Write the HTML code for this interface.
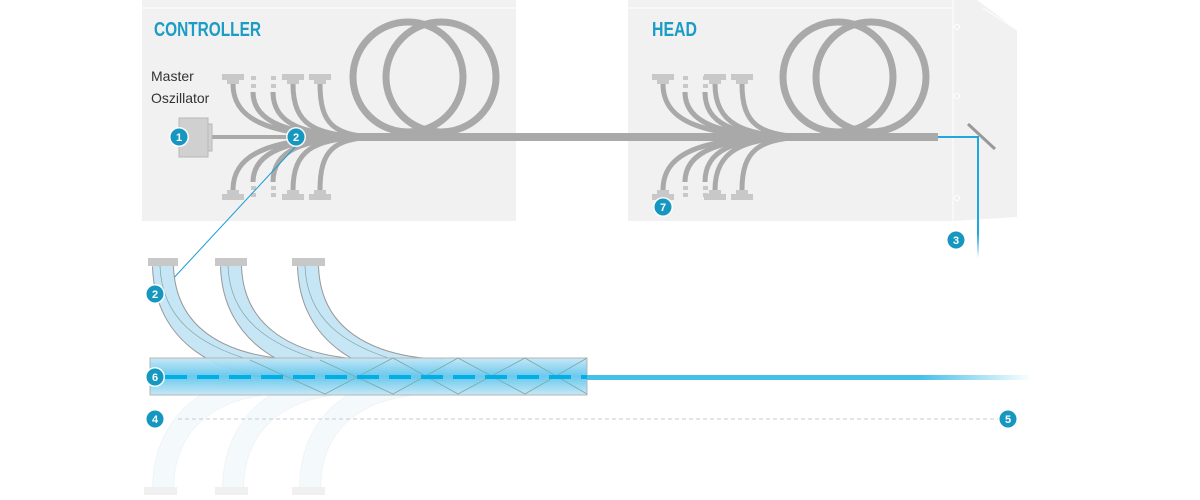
<!DOCTYPE html>
<html><head><meta charset="utf-8"><style>
html,body{margin:0;padding:0;background:#fff;}
svg{display:block;}
text{font-family:"Liberation Sans",sans-serif;}
</style></head><body>
<svg width="1200" height="500" viewBox="0 0 1200 500" xmlns="http://www.w3.org/2000/svg">
<defs>
<linearGradient id="tubeG" x1="0" y1="0" x2="0" y2="1">
<stop offset="0" stop-color="#c4e6f6"/><stop offset="0.5" stop-color="#62c6ec"/><stop offset="1" stop-color="#c4e6f6"/>
</linearGradient>
<linearGradient id="beamG" x1="0" y1="0" x2="1" y2="0">
<stop offset="0" stop-color="#47c0e8"/><stop offset="0.75" stop-color="#47c0e8"/><stop offset="1" stop-color="#47c0e8" stop-opacity="0"/>
</linearGradient>
<linearGradient id="vbeam" x1="0" y1="0" x2="0" y2="1">
<stop offset="0" stop-color="#1fa8e0"/><stop offset="0.8" stop-color="#1fa8e0"/><stop offset="1" stop-color="#1fa8e0" stop-opacity="0"/>
</linearGradient>
<g id="badge"><circle r="10" fill="#fff" opacity="0.9"/><circle r="8.5" fill="#1597bf"/></g>
<g id="conT"><rect x="-11" y="-4" width="22" height="6" fill="#c8c8c8"/><rect x="-6" y="2" width="12" height="4" fill="#c8c8c8"/></g>
<g id="conB"><rect x="-11" y="-2" width="22" height="6" fill="#c8c8c8"/><rect x="-6" y="-6" width="12" height="4" fill="#c8c8c8"/></g>
</defs>

<rect x="142" y="0" width="374" height="221" fill="#f1f1f1"/>
<line x1="142" y1="8" x2="516" y2="8" stroke="#fff"/>
<rect x="628" y="0" width="325" height="221" fill="#f1f1f1"/>
<line x1="628" y1="8" x2="953" y2="8" stroke="#fff"/>
<polygon points="953,0 977,0 1017,30 1017,217 953,221" fill="#f1f1f1"/>
<line x1="953" y1="0" x2="953" y2="221" stroke="#fff"/>
<line x1="983" y1="8" x2="1017" y2="30" stroke="#fff"/>
<circle cx="957" cy="27" r="2.5" fill="none" stroke="#fff"/>
<circle cx="957" cy="96" r="2.5" fill="none" stroke="#fff"/>
<circle cx="957" cy="198" r="2.5" fill="none" stroke="#fff"/>

<text x="154" y="36" font-size="20" font-weight="bold" fill="#1a9cc4" textLength="107" lengthAdjust="spacingAndGlyphs">CONTROLLER</text>
<text x="652" y="36" font-size="20" font-weight="bold" fill="#1a9cc4" textLength="45" lengthAdjust="spacingAndGlyphs">HEAD</text>
<text x="151" y="81" font-size="14" fill="#333">Master</text>
<text x="151" y="103" font-size="14" fill="#333">Oszillator</text>

<g fill="none" stroke="#a9a9a9" stroke-width="7">
<circle cx="408" cy="77" r="55"/><circle cx="441" cy="77" r="55"/>
<circle cx="838" cy="77" r="55"/><circle cx="871" cy="77" r="55"/>
</g>
<g fill="none" stroke="#a9a9a9" stroke-width="5">
<path d="M233,84 C233,125 280,134 345,137"/>
<path d="M253,92 C253,125 295,134 350,137"/>
<path d="M273,92 C273,125 305,134 355,137"/>
<path d="M293,84 C293,125 315,134 360,137"/>
<path d="M320,84 C320,125 335,134 370,137"/>
<path d="M233,190 C233,149 280,140 345,137"/>
<path d="M253,182 C253,149 295,140 350,137"/>
<path d="M273,182 C273,149 305,140 355,137"/>
<path d="M293,190 C293,149 315,140 360,137"/>
<path d="M320,190 C320,149 335,140 370,137"/>
<path d="M663,84 C663,125 710,134 775,137"/>
<path d="M685,92 C685,125 725,134 780,137"/>
<path d="M705,92 C705,125 735,134 785,137"/>
<path d="M715,84 C715,125 745,134 790,137"/>
<path d="M742,84 C742,125 760,134 800,137"/>
<path d="M663,190 C663,149 710,140 775,137"/>
<path d="M685,182 C685,149 725,140 780,137"/>
<path d="M705,182 C705,149 735,140 785,137"/>
<path d="M715,190 C715,149 745,140 790,137"/>
<path d="M742,190 C742,149 760,140 800,137"/>
</g>
<rect x="210" y="135" width="140" height="4" fill="#a9a9a9"/>
<rect x="340" y="133" width="598" height="8" fill="#a9a9a9"/>
<g fill="#c8c8c8">
<rect x="251" y="76" width="5" height="4"/><rect x="251" y="84" width="5" height="4"/>
<rect x="271" y="76" width="5" height="4"/><rect x="271" y="84" width="5" height="4"/>
<rect x="251" y="186" width="5" height="4"/><rect x="251" y="193" width="5" height="4"/>
<rect x="271" y="186" width="5" height="4"/><rect x="271" y="193" width="5" height="4"/>
<rect x="683" y="76" width="5" height="4"/><rect x="683" y="84" width="5" height="4"/>
<rect x="703" y="76" width="5" height="4"/><rect x="703" y="84" width="5" height="4"/>
<rect x="683" y="186" width="5" height="4"/><rect x="683" y="193" width="5" height="4"/>
<rect x="703" y="186" width="5" height="4"/><rect x="703" y="193" width="5" height="4"/>
</g>
<use href="#conT" x="233" y="78"/><use href="#conT" x="293" y="78"/><use href="#conT" x="320" y="78"/>
<use href="#conB" x="233" y="196"/><use href="#conB" x="293" y="196"/><use href="#conB" x="320" y="196"/>
<use href="#conT" x="663" y="78"/><use href="#conT" x="715" y="78"/><use href="#conT" x="742" y="78"/>
<use href="#conB" x="663" y="196"/><use href="#conB" x="715" y="196"/><use href="#conB" x="742" y="196"/>
<rect x="179" y="118" width="29" height="39" fill="#d0d0d0" stroke="#b8b8b8"/>
<rect x="208" y="124" width="4" height="27" fill="#d0d0d0" stroke="#b8b8b8"/>

<polyline points="938,137 978,137 978,258" fill="none" stroke="url(#vbeam)" stroke-width="2"/>
<line x1="968" y1="124" x2="995" y2="149" stroke="#999" stroke-width="3"/>
<line x1="296" y1="146" x2="170" y2="282" stroke="#1a9cd4" stroke-width="1"/>

<g fill="none" opacity="0.5">
<g stroke="#e2eaee" stroke-width="22"><path d="M260,385 C190,395 163,440 163,490"/><path d="M330,385 C260,395 233,440 233,490"/><path d="M410,385 C335,395 310,440 310,490"/></g>
<g stroke="#eaf4fa" stroke-width="20"><path d="M260,385 C190,395 163,440 163,490"/><path d="M330,385 C260,395 233,440 233,490"/><path d="M410,385 C335,395 310,440 310,490"/></g>
</g>
<g fill="#f0f0f0"><rect x="144" y="487" width="33" height="8"/><rect x="215" y="487" width="33" height="8"/><rect x="292" y="487" width="33" height="8"/></g>

<g fill="none">
<g stroke="#999" stroke-width="22"><path d="M163,266 C165,335 220,368 300,370"/><path d="M231,266 C233,335 290,368 370,370"/><path d="M308,266 C310,335 365,368 445,370"/></g>
<g stroke="#c6e6f6" stroke-width="20"><path d="M163,266 C165,335 220,368 300,370"/><path d="M231,266 C233,335 290,368 370,370"/><path d="M308,266 C310,335 365,368 445,370"/></g>
<g stroke="#8aa" stroke-width="0.8"><path d="M160,266 C162,320 200,345 250,360"/><path d="M228,266 C230,320 270,345 320,360"/><path d="M305,266 C307,320 345,345 395,360"/></g>
</g>
<g fill="#c8c8c8"><rect x="148" y="258" width="30" height="8"/><rect x="215" y="258" width="32" height="8"/><rect x="292" y="258" width="33" height="8"/></g>

<rect x="150" y="358" width="437" height="37" fill="url(#tubeG)" stroke="#b5b5b5" stroke-width="1" fill-opacity="0.95"/>
<polyline points="250,360 325,394 393,358 458,394 525,358 587,394" fill="none" stroke="#7aa" stroke-width="0.8"/>
<polyline points="320,360 393,394 458,358 525,394 587,358" fill="none" stroke="#7aa" stroke-width="0.8"/>
<line x1="165" y1="377" x2="587" y2="377" stroke="#00aee8" stroke-width="4" stroke-dasharray="22 10"/>
<rect x="587" y="375" width="445" height="5" fill="url(#beamG)"/>
<line x1="178" y1="419" x2="1000" y2="419" stroke="#c5ccd6" stroke-width="1" stroke-dasharray="4 3"/>

<g font-size="11" font-weight="bold" fill="#fff" text-anchor="middle">
<use href="#badge" x="179" y="137"/><text x="179" y="141">1</text>
<use href="#badge" x="296" y="137"/><text x="296" y="141">2</text>
<use href="#badge" x="663" y="207"/><text x="663" y="211">7</text>
<use href="#badge" x="956" y="240"/><text x="956" y="244">3</text>
<use href="#badge" x="155" y="294"/><text x="155" y="298">2</text>
<use href="#badge" x="155" y="377"/><text x="155" y="381">6</text>
<use href="#badge" x="155" y="419"/><text x="155" y="423">4</text>
<use href="#badge" x="1008" y="419"/><text x="1008" y="423">5</text>
</g>
</svg>
</body></html>
